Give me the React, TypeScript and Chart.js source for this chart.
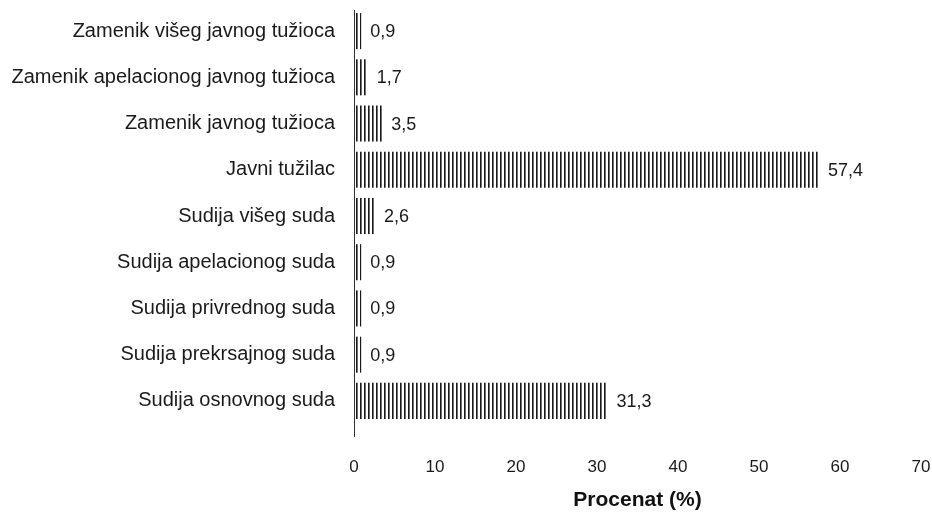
import React, { useEffect, useRef } from 'react';
import { Chart, registerables } from 'chart.js';
Chart.register(...registerables);

const categories = [
  'Zamenik višeg javnog tužioca',
  'Zamenik apelacionog javnog tužioca',
  'Zamenik javnog tužioca',
  'Javni tužilac',
  'Sudija višeg suda',
  'Sudija apelacionog suda',
  'Sudija privrednog suda',
  'Sudija prekrsajnog suda',
  'Sudija osnovnog suda',
];
const values = [0.9, 1.7, 3.5, 57.4, 2.6, 0.9, 0.9, 0.9, 31.3];
const valueLabels = ['0,9', '1,7', '3,5', '57,4', '2,6', '0,9', '0,9', '0,9', '31,3'];
const xMin = 0;
const xMax = 70;
const xStep = 10;
const xTitle = 'Procenat (%)';

const FONT = "'Liberation Sans', Arial, sans-serif";

function makePattern(ctx: CanvasRenderingContext2D) {
  const c = document.createElement('canvas');
  c.width = 4;
  c.height = 4;
  const p = c.getContext('2d')!;
  p.fillStyle = '#ffffff';
  p.fillRect(0, 0, 4, 4);
  p.fillStyle = '#1a1a1a';
  p.fillRect(0, 0, 1, 4);
  p.fillStyle = '#707070';
  p.fillRect(1, 0, 1, 4);
  return ctx.createPattern(c, 'repeat');
}

function zeroPad(s: any) {
  s.paddingTop = 0;
  s.paddingBottom = 0;
  s.paddingLeft = 0;
  s.paddingRight = 0;
}

export default function App() {
  const ref = useRef<HTMLCanvasElement>(null);
  useEffect(() => {
    document.body.style.margin = '0';
    const canvas = ref.current!;
    const ctx = canvas.getContext('2d')!;
    const pattern = makePattern(ctx);
    const labelPlugin = {
      id: 'valueLabels',
      afterDatasetsDraw(chart: any) {
        const c = chart.ctx;
        const meta = chart.getDatasetMeta(0);
        c.save();
        c.font = `18px ${FONT}`;
        c.fillStyle = '#1a1a1a';
        c.textAlign = 'left';
        c.textBaseline = 'middle';
        meta.data.forEach((el: any, i: number) => {
          c.fillText(valueLabels[i], el.x + 9, el.y + 1);
        });
        c.restore();
      },
      afterDraw(chart: any) {
        const c = chart.ctx;
        const x = Math.round(chart.chartArea.left) + 0.5;
        c.save();
        c.strokeStyle = '#333333';
        c.lineWidth = 1;
        c.beginPath();
        c.moveTo(x, chart.chartArea.top + 2);
        c.lineTo(x, chart.chartArea.bottom + 13);
        c.stroke();
        c.restore();
      },
    };
    const chart = new Chart(canvas, {
      type: 'bar',
      data: {
        labels: categories,
        datasets: [
          {
            data: values,
            backgroundColor: pattern as any,
            borderWidth: 0,
            categoryPercentage: 1,
            barPercentage: 0.78,
          },
        ],
      },
      options: {
        indexAxis: 'y',
        animation: false,
        responsive: false,
        maintainAspectRatio: false,
        layout: { padding: { top: 8, right: 11, left: 0, bottom: 0 } },
        plugins: { legend: { display: false }, tooltip: { enabled: false } },
        scales: {
          y: {
            type: 'category',
            grid: { display: false, drawTicks: false },
            border: { display: false },
            ticks: { color: '#1a1a1a', font: { family: FONT, size: 20 }, padding: 19 },
            afterFit: (s: any) => {
              s.width = 354;
              zeroPad(s);
            },
          },
          x: {
            type: 'linear',
            min: xMin,
            max: xMax,
            grid: { display: false, drawTicks: false },
            border: { display: false },
            ticks: { stepSize: xStep, color: '#1a1a1a', font: { family: FONT, size: 17 }, padding: 33 },
            title: {
              display: true,
              text: xTitle,
              color: '#111',
              font: { family: FONT, size: 21, weight: 'bold' },
              padding: { top: 0, bottom: 3 },
            },
            afterFit: (s: any) => {
              s.height = 92;
              zeroPad(s);
            },
          },
        },
      },
      plugins: [labelPlugin],
    });
    return () => chart.destroy();
  }, []);
  return <canvas ref={ref} width={932} height={516} style={{ display: 'block' }} />;
}
